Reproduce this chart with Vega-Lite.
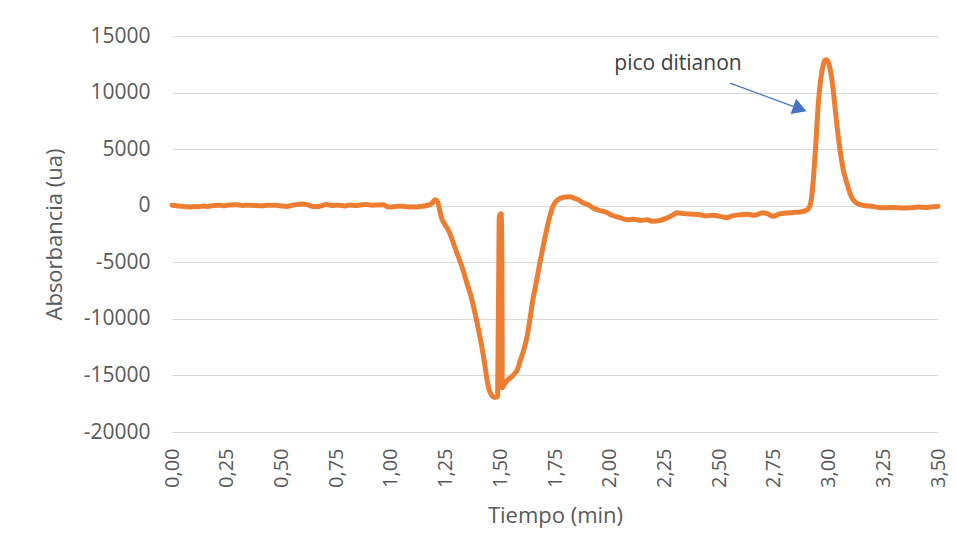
{
  "$schema": "https://vega.github.io/schema/vega-lite/v6.json",
  "width": 766,
  "height": 396,
  "autosize": {"type": "none"},
  "padding": {"left": 172, "top": 36, "right": 18, "bottom": 127},
  "background": "white",
  "config": {
    "font": "Open Sans",
    "view": {"stroke": null},
    "locale": {
      "number": {"decimal": ",", "thousands": ".", "grouping": [3], "currency": ["", " €"], "minus": "-"}
    },
    "axis": {
      "labelColor": "#595959",
      "titleColor": "#595959",
      "titleFontWeight": "normal",
      "gridColor": "#D9D9D9",
      "gridWidth": 1,
      "domain": false,
      "ticks": false,
      "tickSize": 0
    }
  },
  "encoding": {
    "x": {
      "field": "t",
      "type": "quantitative",
      "scale": {"domain": [0, 3.5], "nice": false, "zero": false},
      "axis": {
        "title": "Tiempo (min)",
        "values": [0, 0.25, 0.5, 0.75, 1, 1.25, 1.5, 1.75, 2, 2.25, 2.5, 2.75, 3, 3.25, 3.5],
        "format": ".2f",
        "labelAngle": -90,
        "labelFontSize": 20,
        "labelPadding": 16,
        "grid": false,
        "titleFontSize": 22,
        "titlePadding": 18
      }
    },
    "y": {
      "field": "a",
      "type": "quantitative",
      "scale": {"domain": [-20000, 15000], "nice": false},
      "axis": {
        "title": "Absorbancia (ua)",
        "values": [-20000, -15000, -10000, -5000, 0, 5000, 10000, 15000],
        "format": "d",
        "labelFontSize": 21,
        "labelPadding": 22,
        "grid": true,
        "titleFontSize": 22,
        "titlePadding": 17
      }
    }
  },
  "layer": [
    {
      "data": {
        "values": [
          {"t": 0.000, "a": 50}, {"t": 0.020, "a": 0}, {"t": 0.040, "a": -40}, {"t": 0.060, "a": -80},
          {"t": 0.082, "a": -120}, {"t": 0.100, "a": -60}, {"t": 0.120, "a": -90}, {"t": 0.143, "a": -20},
          {"t": 0.165, "a": -60}, {"t": 0.190, "a": 20}, {"t": 0.219, "a": 40}, {"t": 0.240, "a": 0},
          {"t": 0.260, "a": 60}, {"t": 0.296, "a": 80}, {"t": 0.320, "a": 30}, {"t": 0.350, "a": 50},
          {"t": 0.387, "a": 20}, {"t": 0.410, "a": -10}, {"t": 0.440, "a": 40}, {"t": 0.478, "a": 30},
          {"t": 0.500, "a": -20}, {"t": 0.524, "a": -60}, {"t": 0.550, "a": 40}, {"t": 0.575, "a": 120},
          {"t": 0.600, "a": 160}, {"t": 0.625, "a": 40}, {"t": 0.650, "a": -80}, {"t": 0.676, "a": -40},
          {"t": 0.707, "a": 100}, {"t": 0.730, "a": 30}, {"t": 0.760, "a": 50}, {"t": 0.790, "a": -20},
          {"t": 0.813, "a": 70}, {"t": 0.840, "a": 30}, {"t": 0.860, "a": 60}, {"t": 0.889, "a": 110},
          {"t": 0.915, "a": 40}, {"t": 0.940, "a": 60}, {"t": 0.965, "a": 80}, {"t": 0.985, "a": -80},
          {"t": 1.000, "a": -120}, {"t": 1.030, "a": -40}, {"t": 1.057, "a": -50}, {"t": 1.080, "a": -120},
          {"t": 1.100, "a": -100}, {"t": 1.118, "a": -110}, {"t": 1.140, "a": -60}, {"t": 1.164, "a": 20},
          {"t": 1.187, "a": 200}, {"t": 1.203, "a": 520}, {"t": 1.213, "a": 380}, {"t": 1.222, "a": -300},
          {"t": 1.232, "a": -1100}, {"t": 1.245, "a": -1600}, {"t": 1.261, "a": -2100}, {"t": 1.280, "a": -3000},
          {"t": 1.301, "a": -4150}, {"t": 1.325, "a": -5400}, {"t": 1.347, "a": -6800}, {"t": 1.366, "a": -8000},
          {"t": 1.384, "a": -9450}, {"t": 1.400, "a": -10900}, {"t": 1.415, "a": -12400}, {"t": 1.428, "a": -13900},
          {"t": 1.438, "a": -15200}, {"t": 1.448, "a": -16200}, {"t": 1.461, "a": -16750}, {"t": 1.475, "a": -16950},
          {"t": 1.488, "a": -16850}, {"t": 1.495, "a": -1050}, {"t": 1.501, "a": -700}, {"t": 1.507, "a": -750},
          {"t": 1.509, "a": -16100},
          {"t": 1.518, "a": -15800}, {"t": 1.529, "a": -15500}, {"t": 1.550, "a": -15150}, {"t": 1.565, "a": -14850},
          {"t": 1.578, "a": -14500}, {"t": 1.590, "a": -13750}, {"t": 1.605, "a": -12900}, {"t": 1.621, "a": -11700},
          {"t": 1.635, "a": -10100}, {"t": 1.649, "a": -8300}, {"t": 1.665, "a": -6700}, {"t": 1.681, "a": -5050},
          {"t": 1.697, "a": -3500}, {"t": 1.712, "a": -2100}, {"t": 1.727, "a": -900}, {"t": 1.741, "a": -50},
          {"t": 1.760, "a": 500}, {"t": 1.790, "a": 750}, {"t": 1.818, "a": 800},
          {"t": 1.840, "a": 650}, {"t": 1.860, "a": 500}, {"t": 1.878, "a": 250}, {"t": 1.900, "a": 100},
          {"t": 1.924, "a": -200}, {"t": 1.950, "a": -400}, {"t": 1.986, "a": -600}, {"t": 2.010, "a": -850},
          {"t": 2.047, "a": -1050}, {"t": 2.078, "a": -1240}, {"t": 2.110, "a": -1200}, {"t": 2.140, "a": -1300},
          {"t": 2.170, "a": -1250}, {"t": 2.198, "a": -1380}, {"t": 2.230, "a": -1300}, {"t": 2.260, "a": -1100},
          {"t": 2.290, "a": -800}, {"t": 2.306, "a": -620}, {"t": 2.340, "a": -700}, {"t": 2.380, "a": -750},
          {"t": 2.412, "a": -800}, {"t": 2.440, "a": -900}, {"t": 2.470, "a": -850}, {"t": 2.504, "a": -940},
          {"t": 2.534, "a": -1060}, {"t": 2.560, "a": -900}, {"t": 2.595, "a": -800}, {"t": 2.630, "a": -750},
          {"t": 2.660, "a": -850}, {"t": 2.700, "a": -620}, {"t": 2.720, "a": -700}, {"t": 2.746, "a": -940},
          {"t": 2.780, "a": -700}, {"t": 2.810, "a": -650}, {"t": 2.837, "a": -590}, {"t": 2.870, "a": -550},
          {"t": 2.900, "a": -400}, {"t": 2.913, "a": -100}, {"t": 2.923, "a": 820}, {"t": 2.931, "a": 2500},
          {"t": 2.938, "a": 4350}, {"t": 2.945, "a": 6500}, {"t": 2.952, "a": 8770}, {"t": 2.962, "a": 10800},
          {"t": 2.974, "a": 12300}, {"t": 2.983, "a": 12850}, {"t": 2.991, "a": 12900}, {"t": 3.000, "a": 12600},
          {"t": 3.010, "a": 11800}, {"t": 3.020, "a": 10400}, {"t": 3.029, "a": 8770}, {"t": 3.040, "a": 6800},
          {"t": 3.052, "a": 4950}, {"t": 3.067, "a": 3200}, {"t": 3.083, "a": 2030}, {"t": 3.098, "a": 1100},
          {"t": 3.112, "a": 530}, {"t": 3.127, "a": 250}, {"t": 3.144, "a": 90},
          {"t": 3.170, "a": 0}, {"t": 3.202, "a": -60}, {"t": 3.230, "a": -150}, {"t": 3.265, "a": -180},
          {"t": 3.300, "a": -150}, {"t": 3.340, "a": -200}, {"t": 3.372, "a": -180}, {"t": 3.410, "a": -120},
          {"t": 3.448, "a": -150}, {"t": 3.480, "a": -80}, {"t": 3.500, "a": -60}
        ]
      },
      "mark": {
        "type": "line",
        "color": "#ED7D31",
        "strokeWidth": 5,
        "strokeJoin": "round",
        "strokeCap": "round",
        "interpolate": "monotone"
      }
    },
    {
      "data": {"values": [{"t": 2.550, "a": 10830, "t2": 2.844, "a2": 8740}]},
      "mark": {"type": "rule", "color": "#4472C4", "strokeWidth": 1.2},
      "encoding": {
        "x2": {"field": "t2"},
        "y2": {"field": "a2"}
      }
    },
    {
      "data": {"values": [{"t": 2.869, "a": 8565}]},
      "mark": {
        "type": "point",
        "shape": "triangle-right",
        "filled": true,
        "color": "#4472C4",
        "opacity": 1,
        "size": 260,
        "angle": 20
      }
    },
    {
      "data": {"values": [{"t": 2.312, "a": 12540, "label": "pico ditianon"}]},
      "mark": {
        "type": "text",
        "fontSize": 21,
        "color": "#404040",
        "align": "center",
        "baseline": "middle"
      },
      "encoding": {"text": {"field": "label"}}
    }
  ]
}
